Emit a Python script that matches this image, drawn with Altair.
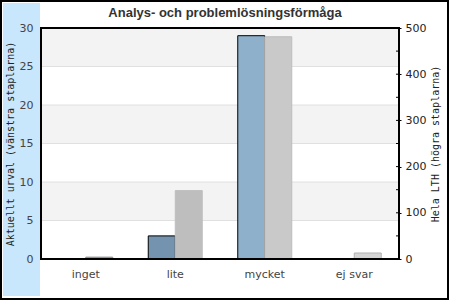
import altair as alt
import pandas as pd

categories = ["inget", "lite", "mycket", "ej svar"]
urval = [0, 3, 29, 0]
hela = [4, 148, 481, 13]

left_ticks = [0, 5, 10, 15, 20, 25, 30]
right_ticks = [0, 100, 200, 300, 400, 500]
right_minor = [50, 100, 150, 200, 250, 300, 350, 400, 450]
band_lo = [5, 15, 25]
band_hi = [10, 20, 30]
grid_vals = [5, 10, 15, 20, 25]

blue_fill = ["#7a9ab4", "#7393ae", "#8fb0cb", "#8fb0cb"]
gray_fill = ["#9c9c9c", "#bebebe", "#c9c9c9", "#d5d5d5"]
gray_stroke = ["#8a8a8a", "#bebebe", "#bcbcbc", "#b3b3b3"]

title_text = "Analys- och problemlösningsförmåga"
left_title = "Aktuellt urval (vänstra staplarna)"
right_title = "Hela LTH (högra staplarna)"

W, H = 358, 231

df = pd.DataFrame({"cat": categories, "urval": urval, "hela": hela})
bands_df = pd.DataFrame({"lo": band_lo, "hi": band_hi})
grid_df = pd.DataFrame({"v": grid_vals})
minor_df = pd.DataFrame({"v": right_minor})
one = pd.DataFrame({"a": [0]})

yl_scale = alt.Scale(domain=[0, 30], nice=False, zero=True)
yr_scale = alt.Scale(domain=[0, 500], nice=False, zero=True)

left_axis = alt.Axis(
    orient="left", values=left_ticks, title=left_title, zindex=2,
    titleFont="DejaVu Sans Mono", titleFontSize=10, titleFontWeight="normal",
    titleColor="#222", titleAngle=270, titleX=-31, titleY=H / 2,
    titleAlign="center", titleBaseline="middle",
    domain=False, ticks=False, grid=False, labelPadding=8,
    labelFont="DejaVu Sans", labelFontSize=11, labelColor="#444",
)
right_axis = alt.Axis(
    orient="right", values=right_ticks, title=right_title, zindex=2,
    titleFont="DejaVu Sans Mono", titleFontSize=10, titleFontWeight="normal",
    titleColor="#222", titleAngle=270, titleX=36, titleY=H / 2,
    titleAlign="center", titleBaseline="middle",
    domain=False, ticks=True, tickSize=2, tickColor="black", grid=False,
    labelPadding=4, labelFont="DejaVu Sans", labelFontSize=11, labelColor="#222",
)
x_enc = alt.X(
    "cat:N", sort=categories,
    scale=alt.Scale(domain=categories, paddingInner=0, paddingOuter=0),
    axis=alt.Axis(title=None, labelAngle=0, domain=False, ticks=False,
                  labelPadding=9, labelFont="DejaVu Sans", labelFontSize=11,
                  labelColor="#444"),
)

bg = alt.Chart(one).mark_rect(fill="#c8e6fc").encode(
    x=alt.value(-38), x2=alt.value(-1), y=alt.value(-25), y2=alt.value(268)
)

bands = alt.Chart(bands_df).mark_rect(fill="#f3f3f3").encode(
    x=alt.value(0), x2=alt.value(W),
    y=alt.Y("lo:Q", scale=yl_scale, axis=None), y2="hi:Q",
)
grid = alt.Chart(grid_df).mark_rule(color="#e0e0e0", strokeWidth=1).encode(
    x=alt.value(0), x2=alt.value(W),
    y=alt.Y("v:Q", scale=yl_scale, axis=None),
)
blue = alt.Chart(df).transform_filter("datum.urval > 0").mark_bar(
    width=27, xOffset=-13.5, stroke="black", strokeWidth=1
).encode(
    x=x_enc,
    y=alt.Y("urval:Q", scale=yl_scale, axis=left_axis),
    color=alt.Color("cat:N", scale=alt.Scale(domain=categories, range=blue_fill), legend=None),
)

gray = alt.Chart(df).mark_bar(width=27, xOffset=13.5, strokeWidth=1).encode(
    x=x_enc,
    y=alt.Y("hela:Q", scale=yr_scale, axis=right_axis),
    color=alt.Color("cat:N", scale=alt.Scale(domain=categories, range=gray_fill), legend=None),
    stroke=alt.Stroke("cat:N", scale=alt.Scale(domain=categories, range=gray_stroke), legend=None),
)
minor = alt.Chart(minor_df).mark_rule(color="black", strokeWidth=1).encode(
    x=alt.value(W - 3), x2=alt.value(W),
    y=alt.Y("v:Q", scale=yr_scale, axis=None),
)

frame = alt.Chart(one).mark_rect(fillOpacity=0, stroke="black", strokeWidth=2).encode(
    x=alt.value(0), x2=alt.value(W), y=alt.value(0), y2=alt.value(H)
)
outer = alt.Chart(one).mark_rect(fillOpacity=0, stroke="black", strokeWidth=2).encode(
    x=alt.value(-40), x2=alt.value(407), y=alt.value(-27), y2=alt.value(271)
)
title = alt.Chart(one).mark_text(
    font="Liberation Sans", fontWeight="bold", fontSize=13, color="#333",
    align="center", baseline="middle",
).encode(x=alt.value(184), y=alt.value(-15), text=alt.value(title_text))

chart = alt.layer(bg, bands, grid, blue, gray, minor, frame, outer, title).resolve_scale(
    y="independent", color="independent", stroke="independent"
).properties(
    width=W, height=H,
    autosize=alt.AutoSizeParams(type="none"),
    padding={"left": 41, "top": 28, "right": 51, "bottom": 41},
    background="white",
).configure_view(stroke=None)

chart.save("out.html", embed_options={"renderer": "svg", "actions": False})
